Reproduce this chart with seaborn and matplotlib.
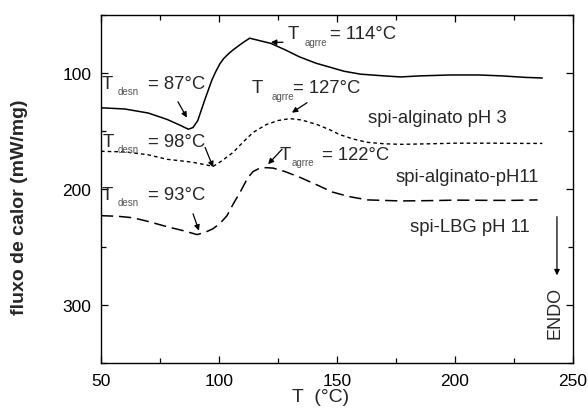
import numpy as np
import pandas as pd
import matplotlib
matplotlib.use("Agg")
import matplotlib.pyplot as plt
from matplotlib.ticker import MultipleLocator
import seaborn as sns

# ---- data ----
t_solid = [50, 60, 70, 78, 84, 87, 89, 91, 94, 97, 98.7, 100.4, 102, 104, 106, 110, 113, 117, 122,
           128, 134, 141, 147, 153, 160, 170, 177, 185, 198, 210, 220, 230, 237]
v_solid = [130, 131, 134.5, 140, 145.5, 148.5, 147, 141, 123, 106, 98.5, 92, 87.5, 83.5, 80, 74,
           70, 72, 74.5, 80, 86, 91.5, 95, 98.5, 101, 102.5, 103.4, 102.5, 101.7, 101.7, 102.5,
           103.8, 104.3]

t_dot = [50, 60, 70, 78, 85, 89, 94, 97.5, 101, 106, 110, 114.4, 120, 125, 130, 135, 141.5, 147,
         151, 157, 163, 170, 177, 190, 200, 215, 230, 237]
v_dot = [167.5, 168, 170.5, 174.4, 176, 177, 179, 180.5, 176, 168.4, 160, 151.3, 144.5, 141,
         139.3, 140.5, 144.4, 149, 153, 157, 159.8, 161, 161.5, 161, 160.5, 160.5, 160.7, 160.7]

t_dash = [50, 57, 63.6, 70, 78, 85, 90.7, 94, 97.5, 100.5, 103.4, 106, 109, 112, 114.4, 117, 120,
          123, 128, 134, 141, 148, 155, 163, 177, 190, 200, 215, 225, 235]
v_dash = [223, 223.5, 224.8, 228, 232.5, 236, 239.3, 237.5, 234.2, 229.5, 223, 213, 202.6, 191,
          185, 182.3, 181.6, 182, 185, 189.7, 196, 202.6, 206.5, 209.4, 210.3, 210, 209.6, 209.8,
          209.8, 209.4]

x_ticks = [50, 100, 150, 200, 250]
y_ticks = [100, 200, 300]

series_names = ["spi-alginato pH 3", "spi-alginato-pH11", "spi-LBG pH 11"]

sns.set_theme(style="ticks")
plt.rcParams['font.family'] = ['Liberation Sans', 'DejaVu Sans']

fig = plt.figure(figsize=(5.88, 4.10), dpi=100)
ax = fig.add_axes([101/588, 1-364/410, (573-101)/588, (364-16)/410])

df1 = pd.DataFrame({"T": t_solid, "v": v_solid})
df2 = pd.DataFrame({"T": t_dot, "v": v_dot})
df3 = pd.DataFrame({"T": t_dash, "v": v_dash})

sns.lineplot(data=df1, x="T", y="v", ax=ax, color="black", lw=1.1, errorbar=None)
sns.lineplot(data=df2, x="T", y="v", ax=ax, color="black", lw=1.0, errorbar=None,
             linestyle=(0, (2.6, 2.2)))
sns.lineplot(data=df3, x="T", y="v", ax=ax, color="black", lw=1.1, errorbar=None,
             linestyle=(0, (8, 3.8)))

ax.set_xlim(50, 250)
ax.set_ylim(350, 50)
ax.set_xticks(x_ticks)
ax.set_yticks(y_ticks)
ax.xaxis.set_minor_locator(MultipleLocator(25))
ax.yaxis.set_minor_locator(MultipleLocator(50))
ax.tick_params(which="both", direction="in", top=True, right=True, width=0.9, colors="black")
ax.tick_params(which="major", length=5, labelsize=12.5, pad=7)
ax.tick_params(which="minor", length=3.5)
for s in ax.spines.values():
    s.set_linewidth(1.0)
    s.set_color("black")

ax.set_xlabel("T  (°C)", fontsize=14)
ax.set_ylabel("fluxo de calor (mW/mg)", fontsize=14, fontweight="bold")
ax.xaxis.set_label_coords(0.466, -0.072)
ax.yaxis.set_label_coords(-0.155, 0.45)

FS = 13.3
SUB = 7
subcol = "#555555"

def tlabel(xT, xs, xe, yb, ys, sub, rest):
    ax.text(xT, yb, "T", fontsize=FS, va="baseline", ha="left")
    ax.text(xs, ys, sub, fontsize=SUB, va="baseline", ha="left", color=subcol)
    ax.text(xe, yb, rest, fontsize=FS, va="baseline", ha="left")

tlabel(50.4, 57.2, 69.9, 112.8, 118.5, "desn", "= 87°C")
tlabel(129.2, 136.4, 147.0, 70.1, 76.1, "agrre", "= 114°C")
tlabel(114.0, 122.5, 131.4, 116.2, 122.0, "agrre", "= 127°C")
tlabel(50.8, 57.2, 69.9, 163.2, 168.0, "desn", "= 98°C")
tlabel(50.4, 57.2, 69.9, 208.5, 213.7, "desn", "= 93°C")
tlabel(125.8, 130.9, 143.6, 174.4, 179.5, "agrre", "= 122°C")

arrows = [((82.6, 124.8), (86.4, 138.5)),
          ((127.1, 73.5), (122.0, 73.5)),
          ((137.3, 125.6), (130.9, 134.2)),
          ((94.1, 164.1), (97.5, 181.2)),
          ((89.0, 221.4), (91.5, 235.9)),
          ((126.7, 165.8), (120.8, 178.6))]
for (xy0, xy1) in arrows:
    ax.annotate("", xy=xy1, xytext=xy0,
                arrowprops=dict(arrowstyle="-|>", color="black", lw=0.9,
                                mutation_scale=8, shrinkA=0, shrinkB=0))

ax.text(163.1, 138.5, series_names[0], fontsize=FS, va="center", ha="left")
ax.text(175.0, 188.9, series_names[1], fontsize=FS, va="center", ha="left")
ax.text(180.9, 232.5, series_names[2], fontsize=FS, va="center", ha="left")

ax.annotate("", xy=(243.2, 274.4), xytext=(243.2, 223.9),
            arrowprops=dict(arrowstyle="-|>", color="black", lw=0.9,
                            mutation_scale=8, shrinkA=0, shrinkB=0))
ax.text(242.4, 306, "ENDO", fontsize=13, rotation=90, va="center", ha="center")

fig.savefig("out.png", dpi=100)
